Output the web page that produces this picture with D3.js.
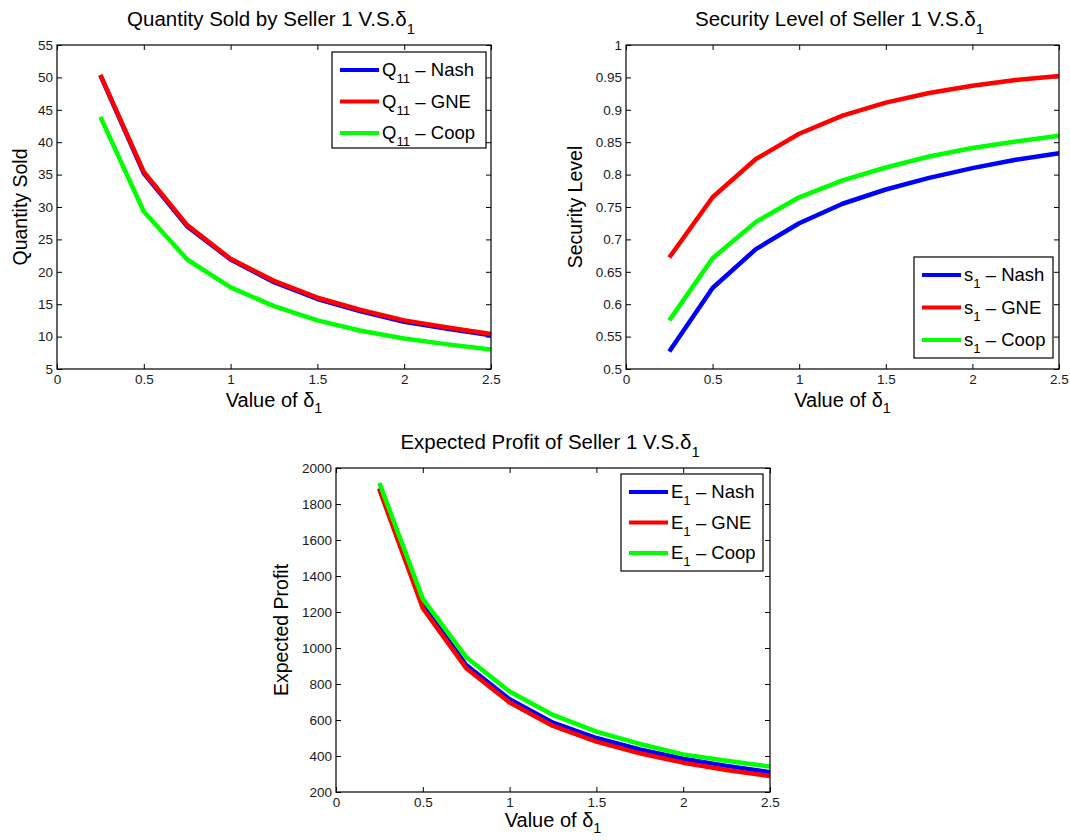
<!DOCTYPE html>
<html>
<head>
<meta charset="utf-8">
<script src="https://cdn.jsdelivr.net/npm/d3@7"></script>
<style>
  html, body { margin: 0; padding: 0; background: #fff; }
  svg { display: block; font-family: "Liberation Sans", Arial, Helvetica, sans-serif; }
</style>
</head>
<body>
<svg id="chart" width="1070" height="840"></svg>
<script>
// delta_1 sample points shared by all three panels
const delta = [0.25, 0.5, 0.75, 1.0, 1.25, 1.5, 1.75, 2.0, 2.25, 2.5];
const xTicks = [0, 0.5, 1, 1.5, 2, 2.5];

// Quantity sold by seller 1
const qNash = [50.3, 35.2, 27.0, 21.9, 18.4, 15.8, 13.9, 12.3, 11.2, 10.2];
const qGNE  = [50.4, 35.4, 27.2, 22.0, 18.6, 16.0, 14.1, 12.5, 11.4, 10.4];
const qCoop = [43.9, 29.3, 21.9, 17.6, 14.7, 12.5, 10.9, 9.7, 8.8, 8.0];
const qTicks = [5, 10, 15, 20, 25, 30, 35, 40, 45, 50, 55];

// Security level of seller 1
const sNash = [0.527, 0.625, 0.685, 0.725, 0.755, 0.777, 0.795, 0.810, 0.823, 0.833];
const sGNE  = [0.672, 0.765, 0.824, 0.863, 0.891, 0.911, 0.926, 0.937, 0.946, 0.952];
const sCoop = [0.575, 0.671, 0.727, 0.765, 0.791, 0.811, 0.828, 0.841, 0.851, 0.860];
const sTicks = [0.5, 0.55, 0.6, 0.65, 0.7, 0.75, 0.8, 0.85, 0.9, 0.95, 1];

// Expected profit of seller 1
const eNash = [1888, 1238, 905, 715, 585, 500, 436, 385, 345, 310];
const eGNE  = [1880, 1221, 888, 697, 567, 480, 415, 363, 322, 289];
const eCoop = [1917, 1273, 949, 758, 628, 535, 467, 409, 374, 341];
const eTicks = [200, 400, 600, 800, 1000, 1200, 1400, 1600, 1800, 2000];

const seriesNames = ["Nash", "GNE", "Coop"];
const seriesColors = ["#0000ff", "#ff0000", "#00ff00"];

const svg = d3.select("#chart");

// Append text with inline subscripts: parts = [[text, isSub], ...]
function richText(sel, parts, size, subShift = 0.4) {
  parts.forEach(([t, sub], i) => {
    const prevSub = i > 0 && parts[i - 1][1];
    const ts = sel.append("tspan").text(t);
    if (sub) ts.attr("dy", size * subShift).attr("font-size", size * 0.72);
    else if (prevSub) ts.attr("dy", -size * subShift).attr("font-size", size);
  });
  return sel;
}

function panel(cfg) {
  const { left, right, top, bottom } = cfg.box;
  const x = d3.scaleLinear().domain([0, 2.5]).range([left, right]);
  const y = d3.scaleLinear().domain(cfg.yDomain).range([bottom, top]);
  const g = svg.append("g");

  // Tick marks pointing inward on all four sides
  const tl = 5;
  const tickFont = 13.5;
  g.append("g").attr("transform", `translate(0,${bottom})`)
    .call(d3.axisBottom(x).tickValues(xTicks).tickSizeInner(-tl).tickSizeOuter(0).tickFormat(d3.format("")))
    .call(a => a.select(".domain").remove())
    .call(a => a.selectAll("text").attr("dy", "0.71em").attr("y", 5).attr("font-size", tickFont).attr("fill", "#1a1a1a").attr("font-family", null));
  g.append("g").attr("transform", `translate(0,${top})`)
    .call(d3.axisTop(x).tickValues(xTicks).tickSizeInner(-tl).tickSizeOuter(0).tickFormat(""))
    .call(a => a.select(".domain").remove());
  g.append("g").attr("transform", `translate(${left},0)`)
    .call(d3.axisLeft(y).tickValues(cfg.yTicks).tickSizeInner(-tl).tickSizeOuter(0).tickFormat(d3.format("")))
    .call(a => a.select(".domain").remove())
    .call(a => a.selectAll("text").attr("x", -4).attr("font-size", tickFont).attr("fill", "#1a1a1a").attr("font-family", null));
  g.append("g").attr("transform", `translate(${right},0)`)
    .call(d3.axisRight(y).tickValues(cfg.yTicks).tickSizeInner(-tl).tickSizeOuter(0).tickFormat(""))
    .call(a => a.select(".domain").remove());
  g.selectAll(".tick line").attr("stroke", "#000");

  // Data lines
  const line = d3.line().x((d, i) => x(delta[i])).y(d => y(d));
  cfg.series.forEach((vals, i) => {
    g.append("path").datum(vals)
      .attr("fill", "none")
      .attr("stroke", seriesColors[i])
      .attr("stroke-width", 4.5)
      .attr("stroke-linejoin", "round")
      .attr("d", line);
  });

  // Axes box
  g.append("rect").attr("x", left).attr("y", top)
    .attr("width", right - left).attr("height", bottom - top)
    .attr("fill", "none").attr("stroke", "#000").attr("stroke-width", 1.2);

  // Title
  const cx = (left + right) / 2;
  richText(g.append("text").attr("x", cx - 3).attr("y", top - 19)
    .attr("text-anchor", "middle").attr("font-size", 20.5).attr("fill", "#000"),
    [[cfg.title, false], ["1", true]], 20.5);

  // X label
  richText(g.append("text").attr("x", cx).attr("y", bottom + cfg.xLabelDy)
    .attr("text-anchor", "middle").attr("font-size", 20).attr("fill", "#000"),
    [["Value of δ", false], ["1", true]], 20, 0.32);

  // Y label
  g.append("text")
    .attr("transform", `translate(${cfg.yLabelX},${(top + bottom) / 2}) rotate(-90)`)
    .attr("text-anchor", "middle").attr("font-size", 19.5).attr("fill", "#000")
    .text(cfg.yLabel);

  // Legend
  const L = cfg.legend;
  const lg = g.append("g");
  lg.append("rect").attr("x", L.x).attr("y", L.y).attr("width", L.w).attr("height", L.h)
    .attr("fill", "#fff").attr("stroke", "#000").attr("stroke-width", 1.2);
  seriesNames.forEach((name, i) => {
    const ly = L.y + L.first + i * L.step;
    lg.append("line").attr("x1", L.x + 8).attr("x2", L.x + 47)
      .attr("y1", ly).attr("y2", ly)
      .attr("stroke", seriesColors[i]).attr("stroke-width", 4);
    richText(lg.append("text").attr("x", L.x + 50).attr("y", ly + 6)
      .attr("font-size", L.font).attr("fill", "#000"),
      [[L.sym, false], [L.sub, true], [" – " + name, false]], L.font);
  });
}

panel({
  box: { left: 57, right: 491, top: 45, bottom: 369 },
  yDomain: [5, 55], yTicks: qTicks,
  series: [qNash, qGNE, qCoop],
  title: "Quantity Sold by Seller 1 V.S.δ",
  yLabel: "Quantity Sold", yLabelX: 27, xLabelDy: 38,
  legend: { x: 332, y: 52, w: 154, h: 96, first: 18, step: 31.5, sym: "Q", sub: "11", font: 18.5 }
});

panel({
  box: { left: 626, right: 1059, top: 45, bottom: 369 },
  yDomain: [0.5, 1], yTicks: sTicks,
  series: [sNash, sGNE, sCoop],
  title: "Security Level of Seller 1 V.S.δ",
  yLabel: "Security Level", yLabelX: 582, xLabelDy: 38,
  legend: { x: 914, y: 257, w: 139, h: 101, first: 18, step: 32.5, sym: "s", sub: "1", font: 18.5 }
});

panel({
  box: { left: 336, right: 770, top: 468, bottom: 792 },
  yDomain: [200, 2000], yTicks: eTicks,
  series: [eNash, eGNE, eCoop],
  title: "Expected Profit of Seller 1 V.S.δ",
  yLabel: "Expected Profit", yLabelX: 288, xLabelDy: 35,
  legend: { x: 621, y: 474, w: 142, h: 97, first: 18, step: 30.5, sym: "E", sub: "1", font: 18.5 }
});
</script>
</body>
</html>
